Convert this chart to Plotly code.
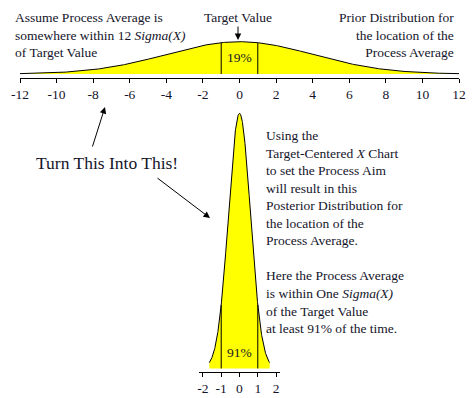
import numpy as np
import plotly.graph_objects as go

# ---- data ----
prior_mean = 0.0
prior_sigma = 4.0
post_mean = 0.0
post_sigma = 0.6
prior_x_extent = [-12, 12]
post_x_extent = [-1.65, 1.65]
prior_tick_vals = [-12, -10, -8, -6, -4, -2, 0, 2, 4, 6, 8, 10, 12]
prior_tick_text = ["-12", "-10", "-8", "-6", "-4", "-2", "0", "2", "4", "6", "8", "10", "12"]
post_tick_vals = [-2, -1, 0, 1, 2]
post_tick_text = ["-2", "-1", "0", "1", "2"]
prior_pct_label = "19%"
post_pct_label = "91%"

W, H = 476, 398
FONT = "Liberation Serif"
TXT = "#14142a"


def pdf(x, m, s):
    return np.exp(-0.5 * ((x - m) / s) ** 2) / (s * np.sqrt(2 * np.pi))


def px(x):
    return x / W


def py(y):
    return 1 - y / H


xs_prior = np.linspace(prior_x_extent[0], prior_x_extent[1], 400)
xs_post = np.linspace(post_x_extent[0], post_x_extent[1], 400)

fig = go.Figure()
fig.add_trace(go.Scatter(x=xs_prior, y=pdf(xs_prior, prior_mean, prior_sigma), mode="lines",
                         line=dict(color="black", width=1), fill="tozeroy", fillcolor="#ffff00",
                         xaxis="x", yaxis="y", hoverinfo="skip"))
fig.add_trace(go.Scatter(x=[-1, -1, None, 1, 1],
                         y=[0, pdf(-1, prior_mean, prior_sigma), None, 0, pdf(1, prior_mean, prior_sigma)],
                         mode="lines", line=dict(color="black", width=1), xaxis="x", yaxis="y", hoverinfo="skip"))
fig.add_trace(go.Scatter(x=xs_post, y=pdf(xs_post, post_mean, post_sigma), mode="lines",
                         line=dict(color="black", width=1), fill="tozeroy", fillcolor="#ffff00",
                         xaxis="x2", yaxis="y2", hoverinfo="skip"))
fig.add_trace(go.Scatter(x=[-1, -1, None, 1, 1],
                         y=[0, pdf(-1, post_mean, post_sigma), None, 0, pdf(1, post_mean, post_sigma)],
                         mode="lines", line=dict(color="black", width=1), xaxis="x2", yaxis="y2", hoverinfo="skip"))

scale = (459 - 20) / 24.0
c0 = (20 + 459) / 2.0
post_range = [-2.2, 2.2]

axis_common = dict(showgrid=False, zeroline=False, showline=True, linecolor="black", linewidth=1,
                   ticks="outside", ticklen=4, tickcolor="black", tickwidth=1, automargin=False,
                   tickfont=dict(family=FONT, size=13.5, color=TXT), fixedrange=True)

top_max = pdf(0, prior_mean, prior_sigma)
top_scale = (74 - 41.7) / top_max
post_max = pdf(0, post_mean, post_sigma)
post_scale = (368.5 - 113.3) / post_max

fig.update_layout(
    width=W, height=H, margin=dict(l=0, r=0, t=0, b=0, pad=0, autoexpand=False),
    paper_bgcolor="white", plot_bgcolor="white", showlegend=False, hovermode=False,
    xaxis=dict(domain=[px(20), px(459)], range=prior_x_extent, tickvals=prior_tick_vals,
               ticktext=prior_tick_text, anchor="y", **axis_common),
    yaxis=dict(domain=[py(77.5), py(29.5)], range=[-(77.5 - 74) / top_scale, (74 - 29.5) / top_scale],
               visible=False, fixedrange=True, anchor="x"),
    xaxis2=dict(domain=[px(c0 + post_range[0] * scale), px(c0 + post_range[1] * scale)], range=post_range,
                tickvals=post_tick_vals, ticktext=post_tick_text, anchor="y2", **axis_common),
    yaxis2=dict(domain=[py(371.5), py(105)], range=[-(371.5 - 368.5) / post_scale, (368.5 - 105) / post_scale],
                visible=False, fixedrange=True, anchor="x2"),
)

f = dict(family=FONT, size=13.5, color=TXT)
ann = []
ann.append(dict(x=px(13), y=py(8), xref="paper", yref="paper", xanchor="left", yanchor="top", align="left",
                showarrow=False, font=f,
                text="Assume Process Average is<br>somewhere within 12 <i>Sigma(X)</i><br>of Target Value"))
ann.append(dict(x=px(238), y=py(17), xref="paper", yref="paper", xanchor="center", yanchor="middle",
                showarrow=False, font=f, text="Target Value"))
ann.append(dict(x=px(456), y=py(8), xref="paper", yref="paper", xanchor="right", yanchor="top", align="right",
                showarrow=False, font=f,
                text="Prior Distribution for<br>the location of the<br>Process Average"))
ann.append(dict(x=0, y=0.5 * top_max, xref="x", yref="y", xanchor="center", yanchor="middle",
                showarrow=False, font=f, text=prior_pct_label))
ann.append(dict(x=px(107), y=py(163), xref="paper", yref="paper", xanchor="center", yanchor="middle",
                showarrow=False, font=dict(family=FONT, size=17.5, color=TXT), text="Turn This Into This!"))
ann.append(dict(x=px(264), y=py(126), xref="paper", yref="paper", xanchor="left", yanchor="top", align="left",
                showarrow=False, font=f,
                text="Using the<br>Target-Centered <i>X</i> Chart<br>to set the Process Aim<br>will result in this<br>"
                     "Posterior Distribution for<br>the location of the<br>Process Average.<br><br>"
                     "Here the Process Average<br>is within One <i>Sigma(X)</i><br>of the Target Value<br>"
                     "at least 91% of the time."))
ann.append(dict(x=0, y=(368.5 - 352) / post_scale, xref="x2", yref="y2", xanchor="center", yanchor="middle",
                showarrow=False, font=f, text=post_pct_label))
# arrows
for (tx, ty, ax, ay) in [(238, 40, 0, -15), (105, 107, -13, 41), (210, 218, -54, -41)]:
    ann.append(dict(x=px(tx), y=py(ty), xref="paper", yref="paper", ax=ax, ay=ay, text="",
                    showarrow=True, arrowhead=2, arrowsize=1.3, arrowwidth=1, arrowcolor="black",
                    standoff=0, startstandoff=0))
fig.update_layout(annotations=ann)

fig.write_html("out.html", config={"displayModeBar": False, "staticPlot": True},
               post_script="document.body.style.margin='0px';document.body.style.overflow='hidden';")
